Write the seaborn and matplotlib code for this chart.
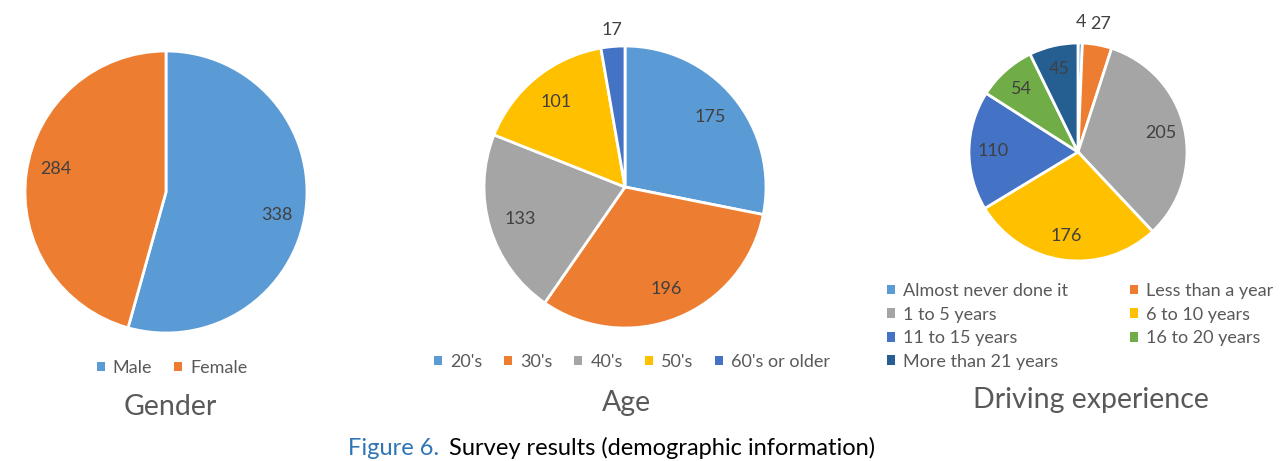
import numpy as np
import matplotlib
matplotlib.use("Agg")
import matplotlib.pyplot as plt
import seaborn as sns
from matplotlib.patches import Patch

gender_labels = ["Male", "Female"]
gender_values = [338, 284]

age_labels = ["20's", "30's", "40's", "50's", "60's or older"]
age_values = [175, 196, 133, 101, 17]

drive_labels = ["Almost never done it", "Less than a year", "1 to 5 years", "6 to 10 years",
                "11 to 15 years", "16 to 20 years", "More than 21 years"]
drive_values = [4, 27, 205, 176, 110, 54, 45]

colors = ["#5B9BD5", "#ED7D31", "#A5A5A5", "#FFC000", "#4472C4", "#70AD47", "#255E91"]

sns.set_theme(style="white")
plt.rcParams['font.family'] = ['Lato', 'DejaVu Sans']

W, H = 1283, 461
fig = plt.figure(figsize=(W / 100, H / 100), dpi=100)

def pie_axes(cx, cy, r):
    # axes sized so a radius-1 pie is r pixels, centred at (cx, cy) measured from top-left
    ax = fig.add_axes([(cx - r) / W, (H - cy - r) / H, 2 * r / W, 2 * r / H])
    ax.axis("off")
    return ax

def draw_pie(ax, values, cols, outside=(), inner=0.78, outer=1.16, turn=0.0):
    wedges, _ = ax.pie(values, colors=cols, startangle=90, counterclock=False,
                       wedgeprops=dict(edgecolor="white", linewidth=2), radius=1)
    ax.set_xlim(-1, 1)
    ax.set_ylim(-1, 1)
    for w, v in zip(wedges, values):
        ang = np.deg2rad((w.theta1 + w.theta2) / 2 + (0 if v in outside else turn))
        d = outer if v in outside else inner
        ax.text(d * np.cos(ang), d * np.sin(ang), str(v), ha="center", va="center",
                fontsize=13, color="#404040")
    return wedges

ax1 = pie_axes(166, 192, 141)
draw_pie(ax1, gender_values, colors[:2], inner=0.8, turn=-4)

ax2 = pie_axes(625, 187, 141)
draw_pie(ax2, age_values, colors[:5], outside=(17,), outer=1.12)

ax3 = pie_axes(1078, 152, 109)
draw_pie(ax3, drive_values, colors, outside=(4, 27), outer=1.19)

def fig_legend(labels, cols, x, y, ncol, loc, order=None, colsp=1.2, lsp=0.3):
    handles = [Patch(facecolor=c, edgecolor="none", label=l) for l, c in zip(labels, cols)]
    if order is not None:
        handles = [handles[i] for i in order]
    fig.legend(handles=handles, loc=loc, bbox_to_anchor=(x / W, 1 - y / H), ncol=ncol,
               frameon=False, fontsize=13, labelcolor="#595959",
               handlelength=0.45, handleheight=0.45, handletextpad=0.45,
               columnspacing=colsp, labelspacing=lsp, borderaxespad=0, borderpad=0)

fig_legend(gender_labels, colors[:2], 172, 368, 2, "center")
fig_legend(age_labels, colors[:5], 632, 362, 5, "center")
# reference fills the two columns row by row
fig_legend(drive_labels, colors, 887, 283, 2, "upper left", order=[0, 2, 4, 6, 1, 3, 5],
           colsp=3.4, lsp=0.42)

for x, y, t in [(170, 407, "Gender"), (626, 403, "Age"), (1091, 400, "Driving experience")]:
    fig.text(x / W, 1 - y / H, t, ha="center", va="center", fontsize=20.5, color="#595959")

# caption: blue figure number followed by black text
fig.canvas.draw()
r = fig.canvas.get_renderer()
t1 = fig.text(348 / W, 1 - 455 / H, "Figure 6.", ha="left", va="baseline",
              fontsize=17, color="#2E75B6")
x_end = t1.get_window_extent(renderer=r).x1
fig.text((x_end + 10) / W, 1 - 455 / H, "Survey results (demographic information)",
         ha="left", va="baseline", fontsize=17, color="#000000")

fig.savefig("out.png", dpi=100, facecolor="white")
